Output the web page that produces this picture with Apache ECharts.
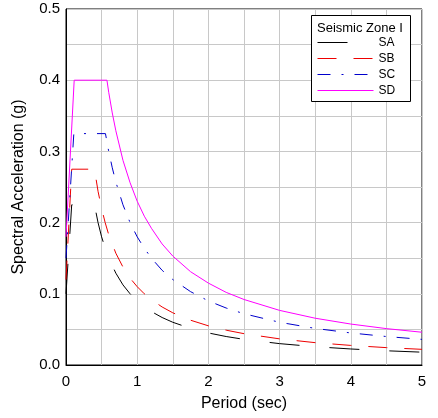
<!DOCTYPE html>
<html>
<head>
<meta charset="utf-8">
<script src="https://cdn.jsdelivr.net/npm/echarts@6/dist/echarts.min.js"></script>
<style>html,body{margin:0;padding:0;background:#fff;}#c{width:438px;height:418px;}</style>
</head>
<body>
<div id="c"></div>
<script>
// Periods (sec) and spectral accelerations (g)
const periodSA = [0, 0.08, 0.4, 0.45, 0.5, 0.55, 0.6, 0.7, 0.8, 0.9, 1.0, 1.1, 1.2, 1.35, 1.5, 1.75, 2.0, 2.25, 2.5, 3.0, 3.5, 4.0, 4.5, 5.0];
const valuesSA = [0.10, 0.225, 0.225, 0.200, 0.180, 0.164, 0.150, 0.129, 0.1125, 0.100, 0.090, 0.082, 0.075, 0.0667, 0.060, 0.0514, 0.045, 0.040, 0.036, 0.030, 0.0257, 0.0225, 0.020, 0.018];

const periodSB = [0, 0.08, 0.4, 0.45, 0.5, 0.55, 0.6, 0.7, 0.8, 0.9, 1.0, 1.1, 1.2, 1.35, 1.5, 1.75, 2.0, 2.25, 2.5, 3.0, 3.5, 4.0, 4.5, 5.0];
const valuesSB = [0.12, 0.275, 0.275, 0.244, 0.220, 0.200, 0.183, 0.157, 0.1375, 0.122, 0.110, 0.100, 0.0917, 0.0815, 0.0733, 0.0629, 0.055, 0.0489, 0.044, 0.0367, 0.0314, 0.0275, 0.0244, 0.022];

const periodSC = [0, 0.11, 0.554, 0.6, 0.65, 0.7, 0.8, 0.9, 1.0, 1.1, 1.2, 1.35, 1.5, 1.75, 2.0, 2.25, 2.5, 3.0, 3.5, 4.0, 4.5, 5.0];
const valuesSC = [0.15, 0.325, 0.325, 0.300, 0.277, 0.257, 0.225, 0.200, 0.180, 0.164, 0.150, 0.133, 0.120, 0.103, 0.090, 0.080, 0.072, 0.060, 0.0514, 0.045, 0.040, 0.036];

const periodSD = [0, 0.115, 0.575, 0.6, 0.65, 0.7, 0.8, 0.9, 1.0, 1.1, 1.2, 1.35, 1.5, 1.75, 2.0, 2.25, 2.5, 3.0, 3.5, 4.0, 4.5, 5.0];
const valuesSD = [0.18, 0.400, 0.400, 0.383, 0.354, 0.329, 0.2875, 0.256, 0.230, 0.209, 0.192, 0.170, 0.153, 0.131, 0.115, 0.102, 0.092, 0.0767, 0.0657, 0.0575, 0.0511, 0.046];

const seriesNames = ['SA', 'SB', 'SC', 'SD'];
const legendTitle = 'Seismic Zone I';
const xTitle = 'Period (sec)';
const yTitle = 'Spectral Acceleration (g)';

function pairs(t, v) { return t.map((x, i) => [x, v[i]]); }

const FONT = '"Liberation Sans", Arial, sans-serif';
const chart = echarts.init(document.getElementById('c'), null, { renderer: 'canvas' });

const styles = [
  { color: '#000000', type: [30, 30] },
  { color: '#ee0000', type: [19, 17] },
  { color: '#0000cc', type: [13, 11, 2, 11] },
  { color: '#ff00ff', type: 'solid' }
];
const dataSets = [pairs(periodSA, valuesSA), pairs(periodSB, valuesSB), pairs(periodSC, valuesSC), pairs(periodSD, valuesSD)];

chart.setOption({
  animation: false,
  backgroundColor: '#ffffff',
  grid: { left: 66, right: 16, top: 9, bottom: 53, show: true, borderColor: '#000', borderWidth: 1, backgroundColor: 'transparent' },
  xAxis: {
    type: 'value', min: 0, max: 5, interval: 0.5,
    name: xTitle, nameLocation: 'middle', nameGap: 31,
    nameTextStyle: { fontFamily: FONT, fontSize: 16, color: '#000' },
    axisLine: { show: true, lineStyle: { color: '#000', width: 1 } },
    axisTick: { show: false },
    splitLine: { show: true, lineStyle: { color: '#c8c8c8', width: 1 } },
    axisLabel: {
      fontFamily: FONT, fontSize: 15, color: '#000', margin: 9,
      formatter: v => (Math.round(v * 2) % 2 === 0 ? String(Math.round(v)) : '')
    }
  },
  yAxis: {
    type: 'value', min: 0, max: 0.5, interval: 0.05,
    name: yTitle, nameLocation: 'middle', nameGap: 39, nameRotate: 90,
    nameTextStyle: { fontFamily: FONT, fontSize: 16, color: '#000' },
    axisLine: { show: true, lineStyle: { color: '#000', width: 1 } },
    axisTick: { show: false },
    splitLine: { show: true, lineStyle: { color: '#c8c8c8', width: 1 } },
    axisLabel: {
      fontFamily: FONT, fontSize: 15, color: '#000', margin: 6,
      formatter: v => (Math.round(v * 100) % 10 === 0 ? v.toFixed(1) : '')
    }
  },
  legend: {
    orient: 'vertical', left: 312, top: 31.5, z: 20,
    itemWidth: 56, itemHeight: 12, itemGap: 4,
    itemStyle: { opacity: 0 },
    lineStyle: { width: 1 },
    textStyle: { fontFamily: FONT, fontSize: 12, color: '#000' },
    data: seriesNames
  },
  graphic: [
    { type: 'rect', shape: { x: 311.5, y: 15.5, width: 99, height: 86 }, style: { fill: '#fff', stroke: '#000', lineWidth: 1 }, z: 5 },
    { type: 'text', x: 317, y: 28, style: { text: legendTitle, fontFamily: FONT, fontSize: 13, fill: '#000', verticalAlign: 'middle', textVerticalAlign: 'middle' }, z: 6 }
  ],
  series: seriesNames.map((n, i) => ({
    name: n, type: 'line', data: dataSets[i], symbol: 'none', showSymbol: false,
    lineStyle: { color: styles[i].color, width: 1, type: styles[i].type },
    itemStyle: { color: styles[i].color },
    z: 3
  }))
});
</script>
</body>
</html>
